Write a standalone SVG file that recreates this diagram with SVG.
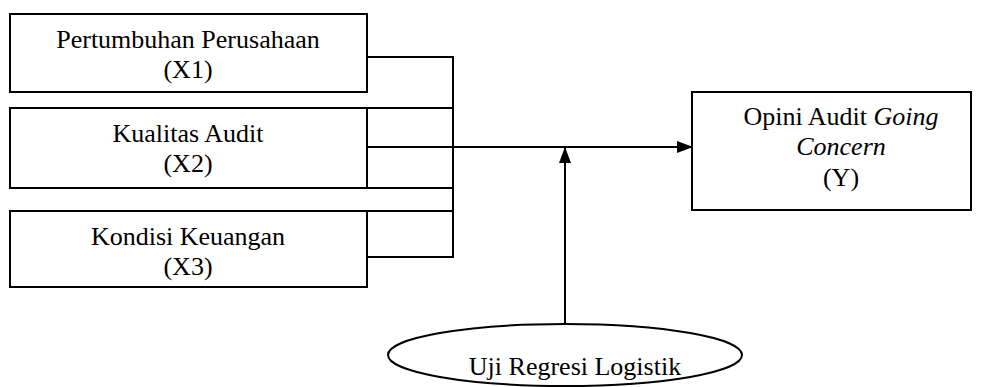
<svg xmlns="http://www.w3.org/2000/svg" width="984" height="387" viewBox="0 0 984 387">
  <style>
    .box { fill: #fff; stroke: #000; stroke-width: 2; }
    .wire { fill: none; stroke: #000; stroke-width: 2; }
    .lbl { text-anchor: middle; fill: #000; }
    .it { font-style: italic; }
  </style>
  <defs>
    <marker id="head" markerWidth="16" markerHeight="12" refX="15" refY="6" orient="auto" markerUnits="userSpaceOnUse">
      <path d="M0,0 L16,6 L0,12 Z" fill="#000"/>
    </marker>
  </defs>
  <rect width="984" height="387" fill="#fff"/>

  <g id="connectors">
    <!-- bus lines from the independent variables -->
    <path class="wire" d="M367,57 H453 V257 H367"/>
    <path class="wire" d="M367,108 H453 M367,188 H453 M367,211 H453"/>
    <path class="wire" d="M367,147 H453"/>
    <!-- main arrow to Y -->
    <path class="wire" d="M453,147 H692" marker-end="url(#head)"/>
    <!-- arrow from the test method -->
    <path class="wire" d="M565,324 V148" marker-end="url(#head)"/>
  </g>

  <g font-family="Liberation Serif, serif" font-size="26">
    <g id="x1">
      <rect class="box" x="10" y="14" width="357" height="78"/>
      <text class="lbl" x="188" y="48">Pertumbuhan Perusahaan</text>
      <text class="lbl" x="188" y="78">(X1)</text>
    </g>
    <g id="x2">
      <rect class="box" x="10" y="108" width="357" height="80"/>
      <text class="lbl" x="188" y="142">Kualitas Audit</text>
      <text class="lbl" x="188" y="172">(X2)</text>
    </g>
    <g id="x3">
      <rect class="box" x="10" y="211" width="357" height="76"/>
      <text class="lbl" x="188" y="245">Kondisi Keuangan</text>
      <text class="lbl" x="188" y="275">(X3)</text>
    </g>
    <g id="y">
      <rect class="box" x="692" y="92" width="279" height="118"/>
      <text class="lbl" x="841" y="125">Opini Audit <tspan class="it">Going</tspan></text>
      <text class="lbl it" x="841" y="155">Concern</text>
      <text class="lbl" x="841" y="186">(Y)</text>
    </g>
    <g id="method">
      <ellipse class="box" cx="565" cy="355" rx="177" ry="31"/>
      <text class="lbl" x="575" y="375">Uji Regresi Logistik</text>
    </g>
  </g>
</svg>
